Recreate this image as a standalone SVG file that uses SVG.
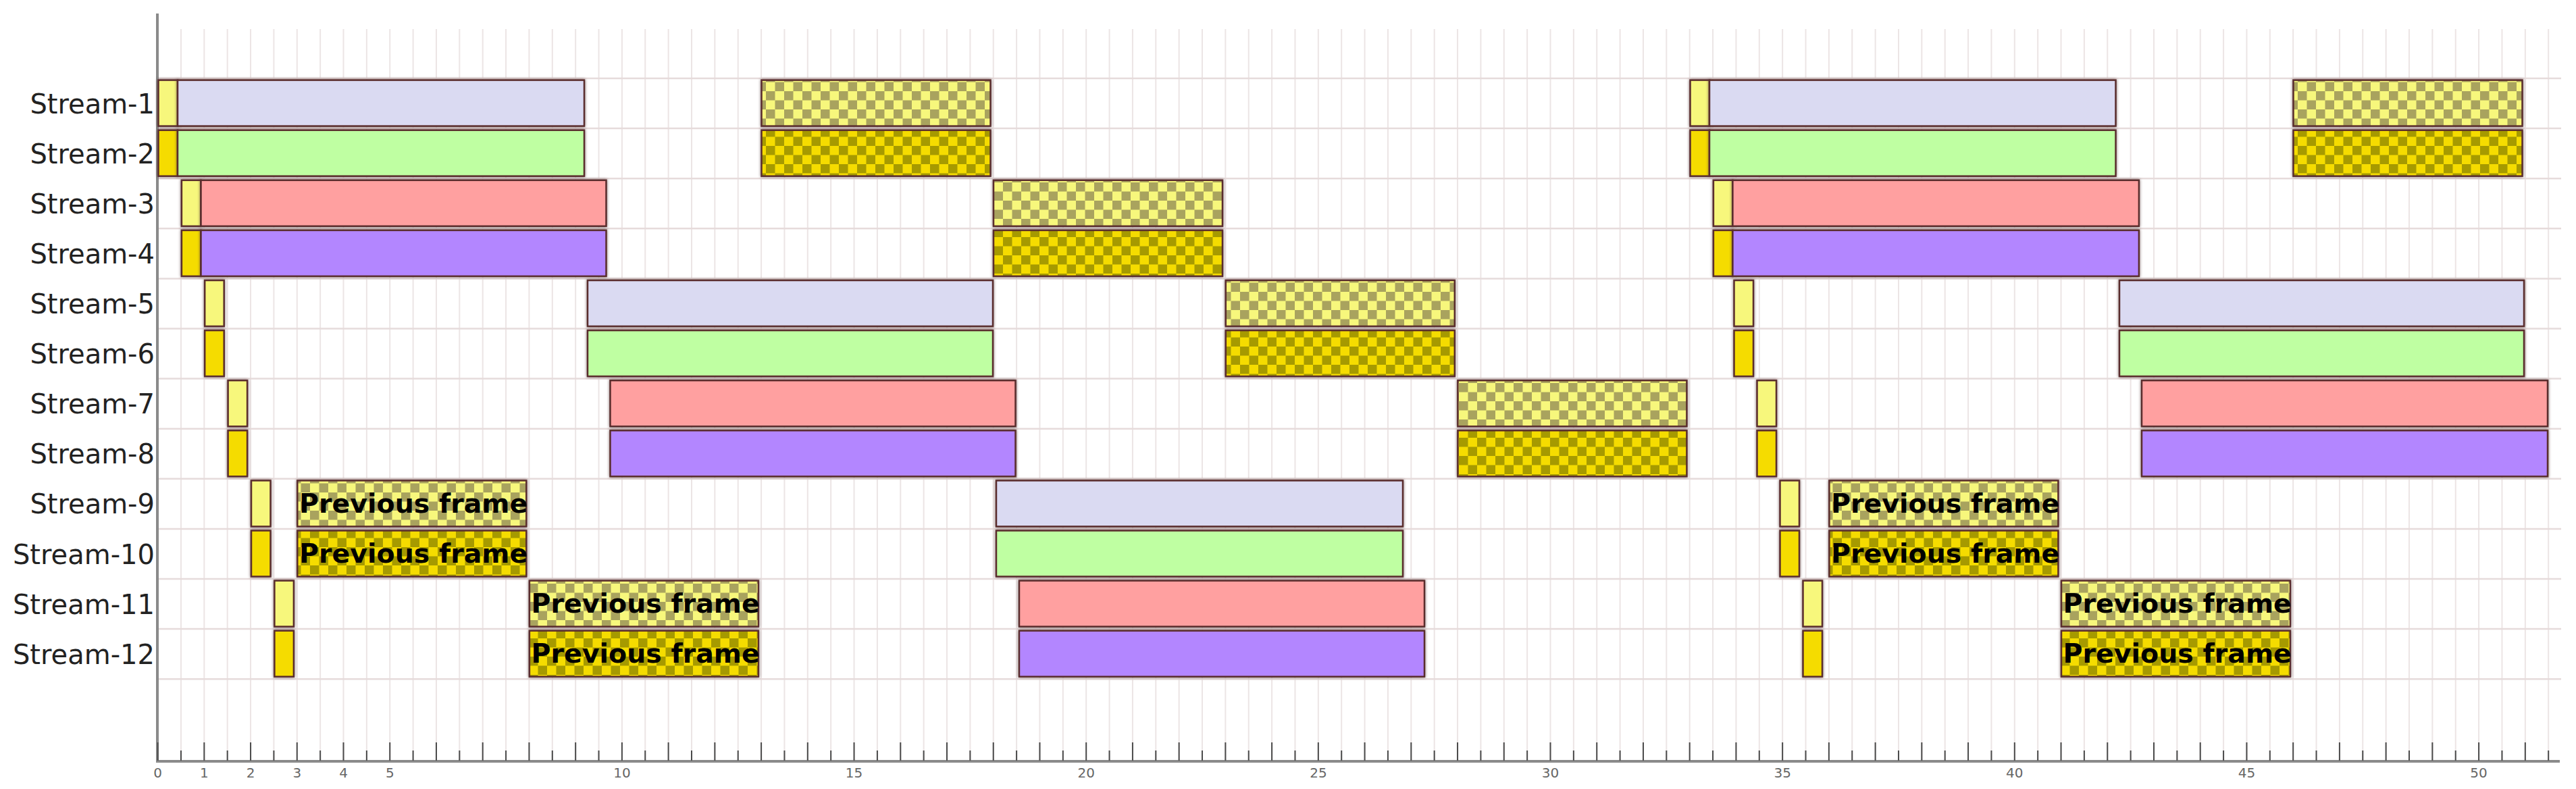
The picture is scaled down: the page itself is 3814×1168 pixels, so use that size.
<svg xmlns="http://www.w3.org/2000/svg" width="3814" height="1168" viewBox="0 0 3814 1168">
<style>
.lbl{font-family:"DejaVu Sans","Liberation Sans",sans-serif;font-size:40px;fill:#222;text-anchor:end}
.tk{font-family:"DejaVu Sans","Liberation Sans",sans-serif;font-size:20px;fill:#666;text-anchor:middle}
.pf{font-family:"DejaVu Sans","Liberation Sans",sans-serif;font-size:39.5px;font-weight:bold;fill:#000}
.b{stroke:#5a2d2d;stroke-width:2.5;filter:drop-shadow(0 0 2px rgba(90,60,60,0.75))}
.y1{fill:#f7f77c}.y2{fill:#f5dc00}
.lav{fill:#dadaf2}.grn{fill:#bfffa2}.pnk{fill:#ffa0a0}.pur{fill:#b386ff}
.c1{fill:url(#chk1)}.c2{fill:url(#chk2)}
</style>
<defs>
<pattern id="chk1" width="27" height="27" patternUnits="userSpaceOnUse"><rect width="27" height="27" fill="#f7f77c"/><rect width="13.5" height="13.5" fill="#a9a35e"/><rect x="13.5" y="13.5" width="13.5" height="13.5" fill="#a9a35e"/></pattern>
<pattern id="chk2" width="27" height="27" patternUnits="userSpaceOnUse"><rect width="27" height="27" fill="#f5dc00"/><rect width="13.5" height="13.5" fill="#a69a00"/><rect x="13.5" y="13.5" width="13.5" height="13.5" fill="#a69a00"/></pattern>
</defs>
<rect width="3814" height="1168" fill="#fff"/>
<g id="grid">
<path fill="none" stroke="#ece5e5" stroke-width="2" d="M267.965 43v1082
m34.365-1082v1082m34.365-1082v1082m34.365-1082v1082m34.365-1082v1082m34.365-1082v1082m34.365-1082v1082m34.365-1082v1082m34.365-1082v1082m34.365-1082v1082m34.365-1082v1082
m34.365-1082v1082m34.365-1082v1082m34.365-1082v1082m34.365-1082v1082m34.365-1082v1082m34.365-1082v1082m34.365-1082v1082m34.365-1082v1082m34.365-1082v1082m34.365-1082v1082
m34.365-1082v1082m34.365-1082v1082m34.365-1082v1082m34.365-1082v1082m34.365-1082v1082m34.365-1082v1082m34.365-1082v1082m34.365-1082v1082m34.365-1082v1082m34.365-1082v1082
m34.365-1082v1082m34.365-1082v1082m34.365-1082v1082m34.365-1082v1082m34.365-1082v1082m34.365-1082v1082m34.365-1082v1082m34.365-1082v1082m34.365-1082v1082m34.365-1082v1082
m34.365-1082v1082m34.365-1082v1082m34.365-1082v1082m34.365-1082v1082m34.365-1082v1082m34.365-1082v1082m34.365-1082v1082m34.365-1082v1082m34.365-1082v1082m34.365-1082v1082
m34.365-1082v1082m34.365-1082v1082m34.365-1082v1082m34.365-1082v1082m34.365-1082v1082m34.365-1082v1082m34.365-1082v1082m34.365-1082v1082m34.365-1082v1082m34.365-1082v1082
m34.365-1082v1082m34.365-1082v1082m34.365-1082v1082m34.365-1082v1082m34.365-1082v1082m34.365-1082v1082m34.365-1082v1082m34.365-1082v1082m34.365-1082v1082m34.365-1082v1082
m34.365-1082v1082m34.365-1082v1082m34.365-1082v1082m34.365-1082v1082m34.365-1082v1082m34.365-1082v1082m34.365-1082v1082m34.365-1082v1082m34.365-1082v1082m34.365-1082v1082
m34.365-1082v1082m34.365-1082v1082m34.365-1082v1082m34.365-1082v1082m34.365-1082v1082m34.365-1082v1082m34.365-1082v1082m34.365-1082v1082m34.365-1082v1082m34.365-1082v1082
m34.365-1082v1082m34.365-1082v1082m34.365-1082v1082m34.365-1082v1082m34.365-1082v1082m34.365-1082v1082m34.365-1082v1082m34.365-1082v1082m34.365-1082v1082m34.365-1082v1082
m34.365-1082v1082m34.365-1082v1082"/>
<path fill="none" stroke="#e6dbdb" stroke-width="2.5" d="M233 116H3792M233 190.1H3792M233 264.2H3792M233 338.3H3792M233 412.4H3792M233 486.5H3792M233 560.6H3792M233 634.7H3792M233 708.8H3792M233 782.9H3792M233 857H3792M233 931.1H3792M233 1005.2H3792"/>
</g>
<g id="axes">
<path fill="none" stroke="#8a8a8a" stroke-width="4" d="M233 20V1127M231 1127H3790"/>
<path fill="none" stroke="#4a4a4a" stroke-width="2" d="M233.6 1099v27
m34.365-15v15m34.365-27v27m34.365-15v15m34.365-27v27m34.365-15v15m34.365-27v27m34.365-15v15m34.365-27v27m34.365-15v15m34.365-27v27
m34.365-15v15m34.365-27v27m34.365-15v15m34.365-27v27m34.365-15v15m34.365-27v27m34.365-15v15m34.365-27v27m34.365-15v15m34.365-27v27
m34.365-15v15m34.365-27v27m34.365-15v15m34.365-27v27m34.365-15v15m34.365-27v27m34.365-15v15m34.365-27v27m34.365-15v15m34.365-27v27
m34.365-15v15m34.365-27v27m34.365-15v15m34.365-27v27m34.365-15v15m34.365-27v27m34.365-15v15m34.365-27v27m34.365-15v15m34.365-27v27
m34.365-15v15m34.365-27v27m34.365-15v15m34.365-27v27m34.365-15v15m34.365-27v27m34.365-15v15m34.365-27v27m34.365-15v15m34.365-27v27
m34.365-15v15m34.365-27v27m34.365-15v15m34.365-27v27m34.365-15v15m34.365-27v27m34.365-15v15m34.365-27v27m34.365-15v15m34.365-27v27
m34.365-15v15m34.365-27v27m34.365-15v15m34.365-27v27m34.365-15v15m34.365-27v27m34.365-15v15m34.365-27v27m34.365-15v15m34.365-27v27
m34.365-15v15m34.365-27v27m34.365-15v15m34.365-27v27m34.365-15v15m34.365-27v27m34.365-15v15m34.365-27v27m34.365-15v15m34.365-27v27
m34.365-15v15m34.365-27v27m34.365-15v15m34.365-27v27m34.365-15v15m34.365-27v27m34.365-15v15m34.365-27v27m34.365-15v15m34.365-27v27
m34.365-15v15m34.365-27v27m34.365-15v15m34.365-27v27m34.365-15v15m34.365-27v27m34.365-15v15m34.365-27v27m34.365-15v15m34.365-27v27
m34.365-15v15m34.365-27v27
m34.365-15v15"/>
<g class="tk">
<text x="233.6" y="1151">0</text><text x="302.3" y="1151">1</text><text x="371.1" y="1151">2</text><text x="439.8" y="1151">3</text><text x="508.5" y="1151">4</text><text x="577.3" y="1151">5</text>
<text x="920.9" y="1151">10</text><text x="1264.6" y="1151">15</text><text x="1608.2" y="1151">20</text><text x="1951.9" y="1151">25</text><text x="2295.5" y="1151">30</text><text x="2639.2" y="1151">35</text><text x="2982.8" y="1151">40</text><text x="3326.5" y="1151">45</text><text x="3670.1" y="1151">50</text>
</g>
</g>
<g id="labels" class="lbl">
<text x="229" y="167.6">Stream-1</text><text x="229" y="241.7">Stream-2</text><text x="229" y="315.8">Stream-3</text><text x="229" y="389.9">Stream-4</text>
<text x="229" y="464">Stream-5</text><text x="229" y="538.1">Stream-6</text><text x="229" y="612.2">Stream-7</text><text x="229" y="686.3">Stream-8</text>
<text x="229" y="760.4">Stream-9</text><text x="229" y="834.5">Stream-10</text><text x="229" y="908.6">Stream-11</text><text x="229" y="982.7">Stream-12</text>
</g>
<g id="connectors"/>
<g id="stream-1">
<rect class="b y1" x="234.5" y="118.6" width="28.5" height="68"/><rect class="b lav" x="263" y="118.6" width="602" height="68"/>
<rect class="b c1" x="1127.5" y="118.6" width="339" height="68"/>
<rect class="b y1" x="2502.5" y="118.6" width="28.5" height="68"/><rect class="b lav" x="2531" y="118.6" width="601.5" height="68"/>
<rect class="b c1" x="3395.5" y="118.6" width="339" height="68"/>
</g>
<g id="stream-2">
<rect class="b y2" x="234.5" y="192.7" width="28.5" height="68"/><rect class="b grn" x="263" y="192.7" width="602" height="68"/>
<rect class="b c2" x="1127.5" y="192.7" width="339" height="68"/>
<rect class="b y2" x="2502.5" y="192.7" width="28.5" height="68"/><rect class="b grn" x="2531" y="192.7" width="601.5" height="68"/>
<rect class="b c2" x="3395.5" y="192.7" width="339" height="68"/>
</g>
<g id="stream-3">
<rect class="b y1" x="268.9" y="266.8" width="28.5" height="68"/><rect class="b pnk" x="297.5" y="266.8" width="600" height="68"/>
<rect class="b c1" x="1471" y="266.8" width="339" height="68"/>
<rect class="b y1" x="2536.9" y="266.8" width="28.5" height="68"/><rect class="b pnk" x="2565.4" y="266.8" width="601.5" height="68"/>
</g>
<g id="stream-4">
<rect class="b y2" x="268.9" y="340.9" width="28.5" height="68"/><rect class="b pur" x="297.5" y="340.9" width="600" height="68"/>
<rect class="b c2" x="1471" y="340.9" width="339" height="68"/>
<rect class="b y2" x="2536.9" y="340.9" width="28.5" height="68"/><rect class="b pur" x="2565.4" y="340.9" width="601.5" height="68"/>
</g>
<g id="stream-5">
<rect class="b y1" x="303.2" y="415" width="28.5" height="68"/><rect class="b lav" x="870" y="415" width="600" height="68"/>
<rect class="b c1" x="1814.8" y="415" width="339" height="68"/>
<rect class="b y1" x="2567.5" y="415" width="28.5" height="68"/><rect class="b lav" x="3138" y="415" width="599" height="68"/>
</g>
<g id="stream-6">
<rect class="b y2" x="303.2" y="489.1" width="28.5" height="68"/><rect class="b grn" x="870" y="489.1" width="600" height="68"/>
<rect class="b c2" x="1814.8" y="489.1" width="339" height="68"/>
<rect class="b y2" x="2567.5" y="489.1" width="28.5" height="68"/><rect class="b grn" x="3138" y="489.1" width="599" height="68"/>
</g>
<g id="stream-7">
<rect class="b y1" x="337.6" y="563.2" width="28.5" height="68"/><rect class="b pnk" x="903.5" y="563.2" width="600" height="68"/>
<rect class="b c1" x="2158.4" y="563.2" width="339" height="68"/>
<rect class="b y1" x="2601.5" y="563.2" width="28.5" height="68"/><rect class="b pnk" x="3171" y="563.2" width="601" height="68"/>
</g>
<g id="stream-8">
<rect class="b y2" x="337.6" y="637.3" width="28.5" height="68"/><rect class="b pur" x="903.5" y="637.3" width="600" height="68"/>
<rect class="b c2" x="2158.4" y="637.3" width="339" height="68"/>
<rect class="b y2" x="2601.5" y="637.3" width="28.5" height="68"/><rect class="b pur" x="3171" y="637.3" width="601" height="68"/>
</g>
<g id="stream-9">
<rect class="b y1" x="372" y="711.4" width="28.5" height="68"/>
<rect class="b c1" x="440.3" y="711.4" width="339" height="68"/><text class="pf" x="443" y="758.9">Previous frame</text>
<rect class="b lav" x="1475" y="711.4" width="602" height="68"/>
<rect class="b y1" x="2635.5" y="711.4" width="28.5" height="68"/>
<rect class="b c1" x="2708.4" y="711.4" width="339" height="68"/><text class="pf" x="2711" y="758.9">Previous frame</text>
</g>
<g id="stream-10">
<rect class="b y2" x="372" y="785.5" width="28.5" height="68"/>
<rect class="b c2" x="440.3" y="785.5" width="339" height="68"/><text class="pf" x="443" y="833">Previous frame</text>
<rect class="b grn" x="1475" y="785.5" width="602" height="68"/>
<rect class="b y2" x="2635.5" y="785.5" width="28.5" height="68"/>
<rect class="b c2" x="2708.4" y="785.5" width="339" height="68"/><text class="pf" x="2711" y="833">Previous frame</text>
</g>
<g id="stream-11">
<rect class="b y1" x="406.4" y="859.6" width="28.5" height="68"/>
<rect class="b c1" x="783.9" y="859.6" width="339" height="68"/><text class="pf" x="786.5" y="907.1">Previous frame</text>
<rect class="b pnk" x="1509" y="859.6" width="600" height="68"/>
<rect class="b y1" x="2669.5" y="859.6" width="28.5" height="68"/>
<rect class="b c1" x="3052" y="859.6" width="339" height="68"/><text class="pf" x="3054.6" y="907.1">Previous frame</text>
</g>
<g id="stream-12">
<rect class="b y2" x="406.4" y="933.7" width="28.5" height="68"/>
<rect class="b c2" x="783.9" y="933.7" width="339" height="68"/><text class="pf" x="786.5" y="981.2">Previous frame</text>
<rect class="b pur" x="1509" y="933.7" width="600" height="68"/>
<rect class="b y2" x="2669.5" y="933.7" width="28.5" height="68"/>
<rect class="b c2" x="3052" y="933.7" width="339" height="68"/><text class="pf" x="3054.6" y="981.2">Previous frame</text>
</g>
</svg>
